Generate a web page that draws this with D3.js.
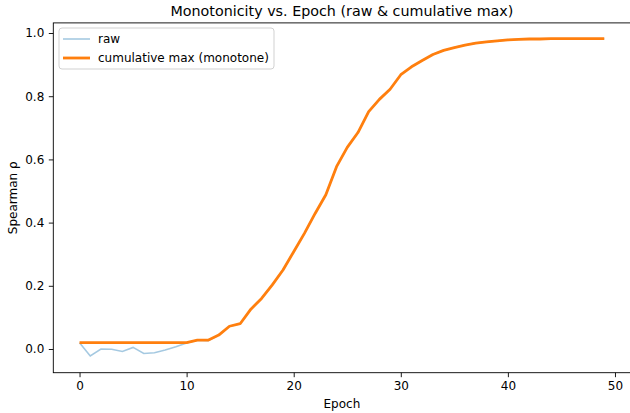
<!DOCTYPE html>
<head>
  <meta charset="UTF-8">
  <title>monotonicity</title>
  <style>
  body{
    margin: 0;
    background: #fff;
  }
  text{
    font-family: "DejaVu Sans", sans-serif;
  }
  </style>
</head>
<body>
  <script src="https://cdn.jsdelivr.net/npm/d3@7"></script>
  <script type="text/javascript">
  // data
  var epochs = d3.range(0, 50);
  var rawValues = [0.02, -0.022, 0.0, -0.001, -0.008, 0.005, -0.014, -0.012, -0.003, 0.007,
    0.019, 0.028, 0.026, 0.044, 0.072, 0.08, 0.126, 0.16, 0.203, 0.25,
    0.308, 0.366, 0.429, 0.488, 0.577, 0.638, 0.685, 0.751, 0.79, 0.822,
    0.868, 0.893, 0.913, 0.932, 0.945, 0.954, 0.962, 0.968, 0.972, 0.975,
    0.978, 0.98, 0.981, 0.981, 0.982, 0.982, 0.982, 0.982, 0.982, 0.982];
  var cumMaxValues = [0.02, 0.02, 0.02, 0.02, 0.02, 0.02, 0.02, 0.02, 0.02, 0.02,
    0.02, 0.028, 0.028, 0.044, 0.072, 0.08, 0.126, 0.16, 0.203, 0.25,
    0.308, 0.366, 0.429, 0.488, 0.577, 0.638, 0.685, 0.751, 0.79, 0.822,
    0.868, 0.893, 0.913, 0.932, 0.945, 0.954, 0.962, 0.968, 0.972, 0.975,
    0.978, 0.98, 0.981, 0.981, 0.982, 0.982, 0.982, 0.982, 0.982, 0.982];
  var xTicks = [0, 10, 20, 30, 40, 50];
  var yTicks = [0.0, 0.2, 0.4, 0.6, 0.8, 1.0];
  var seriesNames = ['raw', 'cumulative max (monotone)'];

  var width = 630, height = 413;
  var plotL = 53.3, plotR = 630.5, plotT = 22.9, plotB = 372.7;
  var fs = 12;

  var svg = d3.select('body').append('svg')
  .attr('width', width)
  .attr('height', height);

  //比例尺
  var x = d3.scaleLinear().domain([-2.45, 51.45]).range([plotL, plotR]);
  var y = d3.scaleLinear().domain([-0.075, 1.032]).range([plotB, plotT]);

  //坐标轴
  var xAxis = svg.append('g')
  .attr('transform', 'translate(0,' + plotB + ')')
  .call(d3.axisBottom(x).tickValues(xTicks).tickFormat(d3.format('d')).tickSize(4.5).tickPadding(4.5));
  var yAxis = svg.append('g')
  .attr('transform', 'translate(' + plotL + ',0)')
  .call(d3.axisLeft(y).tickValues(yTicks).tickFormat(d3.format('.1f')).tickSize(4.5).tickPadding(4.5));
  [xAxis, yAxis].forEach(function(g){
    g.select('.domain').remove();
    g.selectAll('text').attr('font-size', fs).attr('fill', '#000')
      .style('font-family', '"DejaVu Sans", sans-serif');
    g.selectAll('line').attr('stroke', '#000').attr('stroke-width', 0.9);
  });

  //边框
  svg.append('rect')
  .attr('x', plotL).attr('y', plotT)
  .attr('width', plotR - plotL).attr('height', plotB - plotT)
  .attr('fill', 'none').attr('stroke', '#000').attr('stroke-width', 0.9);

  //折线
  var line = function(vals){
    return d3.line().x(function(d, i){ return x(epochs[i]); }).y(function(d){ return y(d); })(vals);
  };
  svg.append('path')
  .attr('d', line(rawValues))
  .attr('fill', 'none')
  .attr('stroke', '#1f77b4').attr('stroke-opacity', 0.4)
  .attr('stroke-width', 1.6);
  svg.append('path')
  .attr('d', line(cumMaxValues))
  .attr('fill', 'none')
  .attr('stroke', '#ff7f0e')
  .attr('stroke-width', 2.8)
  .attr('stroke-linejoin', 'round');

  //标题
  svg.append('text')
  .attr('x', (plotL + plotR) / 2).attr('y', 16)
  .attr('text-anchor', 'middle').attr('font-size', 14.3)
  .text('Monotonicity vs. Epoch (raw & cumulative max)');
  svg.append('text')
  .attr('x', (plotL + plotR) / 2).attr('y', 408)
  .attr('text-anchor', 'middle').attr('font-size', fs)
  .text('Epoch');
  svg.append('text')
  .attr('transform', 'translate(16.5,' + (plotT + plotB) / 2 + ') rotate(-90)')
  .attr('text-anchor', 'middle').attr('font-size', fs)
  .text('Spearman ρ');

  //图例
  var legend = svg.append('g');
  legend.append('rect')
  .attr('x', 59).attr('y', 28).attr('width', 215).attr('height', 41)
  .attr('rx', 3)
  .attr('fill', '#fff').attr('fill-opacity', 0.8)
  .attr('stroke', '#ccc').attr('stroke-width', 0.9);
  var legendStyles = [
    {color: '#1f77b4', opacity: 0.4, w: 1.6},
    {color: '#ff7f0e', opacity: 1, w: 2.8}
  ];
  seriesNames.forEach(function(name, i){
    var cy = 39 + i * 19;
    legend.append('line')
    .attr('x1', 63).attr('x2', 90).attr('y1', cy).attr('y2', cy)
    .attr('stroke', legendStyles[i].color)
    .attr('stroke-opacity', legendStyles[i].opacity)
    .attr('stroke-width', legendStyles[i].w);
    legend.append('text')
    .attr('x', 98).attr('y', cy + 4.3)
    .attr('font-size', fs)
    .text(name);
  });
  </script>
</body>
</html>
